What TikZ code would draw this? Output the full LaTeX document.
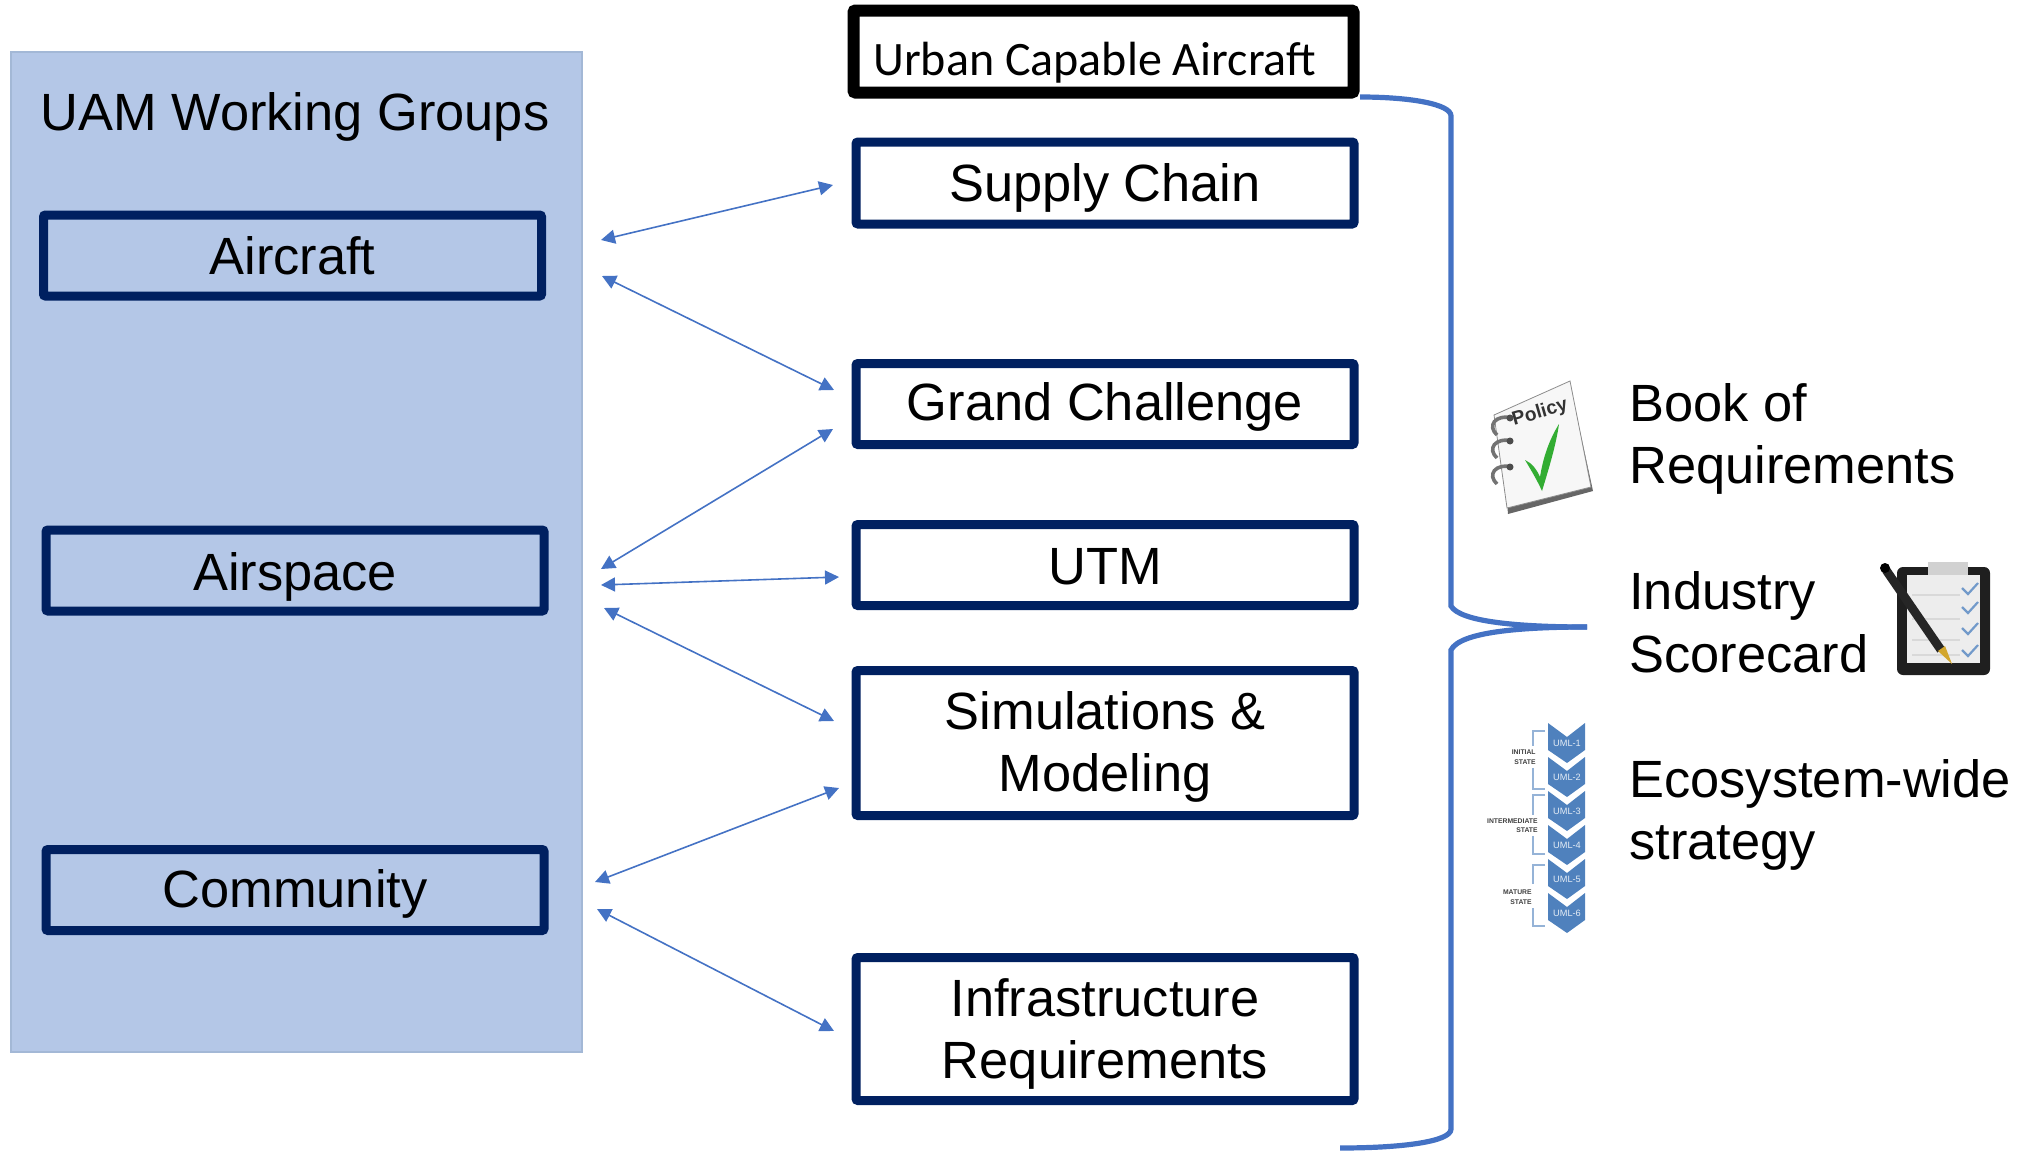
\documentclass[tikz,border=0pt]{standalone}
\usepackage{fontspec}
\setmainfont{Liberation Sans}
\newfontfamily\carlitofont{Carlito}
\usetikzlibrary{arrows.meta}
\definecolor{navy}{HTML}{002060}
\definecolor{panel}{HTML}{B4C7E7}
\definecolor{panelline}{HTML}{A3B8D6}
\definecolor{linkblue}{HTML}{4472C4}
\definecolor{chev}{HTML}{4F81BD}
\definecolor{brk}{HTML}{95B3D7}
\newcommand{\st}[1]{\rule{0pt}{#1pt}}
\tikzset{
  navybox/.style={draw=navy,line width=4.5pt,fill=white,rounded corners=1pt,align=center,font=\fontsize{26.2}{31.3}\selectfont,inner sep=0pt},
  groupbox/.style={navybox,fill=panel},
  blackbox/.style={draw=black,line width=6pt,fill=white,rounded corners=1pt,inner sep=0pt},
  link/.style={draw=linkblue,line width=0.8pt,{Triangle[length=7pt,width=7pt]}-{Triangle[length=7pt,width=7pt]}},
  bracket/.style={draw=linkblue,line width=2.6pt},
  sidetext/.style={anchor=west,align=left,inner sep=0pt,font=\fontsize{26.2}{31.3}\selectfont},
  chevron/.style={fill=chev,draw=none},
  umltext/.style={text=white!85!chev,font=\fontsize{4.6}{5}\selectfont,inner sep=0pt},
  statetext/.style={anchor=east,align=right,inner sep=0pt,font=\fontsize{3.4}{5}\selectfont\bfseries,text=black!75},
  brk line/.style={draw=brk,line width=1pt},
}
\begin{document}
\begin{tikzpicture}[x=0.5pt,y=-0.5pt]
\useasboundingbox (0,0) rectangle (2023,1151);
% panel
\node[draw=panelline,fill=panel,line width=0.6pt,minimum width=285.5pt,minimum height=500pt,inner sep=0pt] (panel) at (296.5,552) {};
\node[inner sep=0pt,font=\fontsize{26.2}{31}\selectfont] (title) at (295,117) {UAM Working Groups};
% left boxes
\node[groupbox,minimum width=249pt,minimum height=40.5pt] (aircraft) at (292.5,255.5) {Aircraft};
\node[groupbox,minimum width=249pt,minimum height=40.5pt] (airspace) at (295,570.5) {\st{25}Airspace};
\node[groupbox,minimum width=249pt,minimum height=40.5pt] (community) at (295,890) {\st{23}Community};
% middle boxes
\node[blackbox,minimum width=250pt,minimum height=41pt] (urban) at (1103.5,51.5) {};
\node[anchor=west,inner sep=0pt,font=\carlitofont\fontsize{24}{28}\selectfont] (urbantext) at (873,63) {Urban Capable Aircraft};
\node[navybox,minimum width=249pt,minimum height=41pt] (supply) at (1105,183) {\st{24}Supply Chain};
\node[navybox,minimum width=249pt,minimum height=40.5pt] (grand) at (1105,404) {\st{21.5}Grand Challenge};
\node[navybox,minimum width=249pt,minimum height=40.5pt] (utm) at (1105,565) {\st{20}UTM};
\node[navybox,minimum width=249pt,minimum height=72.5pt] (sim) at (1105,743) {\st{23}Simulations \&\\Modeling};
\node[navybox,minimum width=249pt,minimum height=71.5pt] (infra) at (1105,1029) {\st{24}Infrastructure\\Requirements};
% arrow ends
\coordinate (a1) at (601,240);  \coordinate (s1) at (833,185);
\coordinate (a2) at (602,276);  \coordinate (g1) at (834,390);
\coordinate (b1) at (601,569);  \coordinate (g2) at (833,429);
\coordinate (b2) at (601,585);  \coordinate (u1) at (839,577);
\coordinate (b3) at (604,608);  \coordinate (m1) at (834,721);
\coordinate (c1) at (595,882);  \coordinate (m2) at (839,788);
\coordinate (c2) at (597,909);  \coordinate (i1) at (834,1031);
\draw[link] (a1) -- (s1);
\draw[link] (a2) -- (g1);
\draw[link] (b1) -- (g2);
\draw[link] (b2) -- (u1);
\draw[link] (b3) -- (m1);
\draw[link] (c1) -- (m2);
\draw[link] (c2) -- (i1);
% big brace
\coordinate (br0) at (1360,97);
\coordinate (br1) at (1451,116);
\coordinate (br2) at (1451,606);
\coordinate (brt) at (1587,627);
\coordinate (br3) at (1451,650);
\coordinate (br4) at (1451,1129);
\coordinate (br5) at (1340,1148);
\draw[bracket] (br0) .. controls (1410,97) and (1451,104) .. (br1) -- (br2) .. controls (1460,622) and (1520,627) .. (brt);
\draw[bracket] (brt) .. controls (1520,627) and (1460,632) .. (br3) -- (br4) .. controls (1451,1142) and (1400,1148) .. (br5);
% side text
\node[sidetext] (book) at (1629,439) {Book of\\Requirements};
\node[sidetext] (score) at (1629,622) {Industry\\Scorecard};
\node[sidetext] (eco) at (1629,815) {Ecosystem-wide\\strategy};
% policy notebook icon
\fill[black!60] (1500,420) -- (1570,385) -- (1593,491) -- (1508,514) -- cycle;
\fill[black!3,draw=black!45,line width=0.4pt] (1494,415) -- (1570,381) -- (1591,487) -- (1507,508) -- cycle;
\node[rotate=16,inner sep=0pt,font=\fontsize{9.6}{12}\selectfont\bfseries,text=black!80] (policy) at (1540,413) {Policy};
\fill[green!60!black!80!white] (1525,460) .. controls (1532,463) and (1537,470) .. (1540,477) .. controls (1543,458) and (1549,440) .. (1559,424) .. controls (1556,445) and (1549,468) .. (1542,491) .. controls (1537,480) and (1531,470) .. (1525,460) -- cycle;
\foreach \yy in {418,441,467}{
  \draw[black!55,line width=1.8pt] (1512,\yy) .. controls (1495,\yy-4) and (1487,\yy+8) .. (1497,\yy+17);
  \fill[black!70] (1510,\yy) circle[radius=3.5];
}
% clipboard icon
\fill[black!88,rounded corners=3pt] (1897,567) rectangle (1990,675);
\fill[black!7] (1907,575) rectangle (1980,663);
\fill[black!18] (1928,562) rectangle (1968,575);
\foreach \yy in {595,619,640,655}{
  \draw[black!15,line width=1pt] (1912,\yy) -- (1960,\yy);
}
\foreach \yy in {588,607,628,650}{
  \draw[chev!80!white,line width=1.1pt] (1962,\yy) -- (1968,\yy+6) -- (1978,\yy-5);
}
\draw[black!85,line width=4.4pt] (1886,570) -- (1941,650);
\fill[brown!70!yellow] (1938,651) -- (1945,646) -- (1952,664) -- cycle;
\fill[black] (1885,568) circle[radius=5];
% UML chevrons
\foreach \i/\lab in {0/UML-1,1/UML-2,2/UML-3,3/UML-4,4/UML-5,5/UML-6}{
  \fill[chevron] (1548,723+34*\i) -- (1567,737+34*\i) -- (1585,723+34*\i) -- (1585,750+34*\i) -- (1567,763+34*\i) -- (1548,750+34*\i) -- cycle;
  \node[umltext] at (1567,743+34*\i) {\lab};
}
\draw[brk line] (1545,731) -- (1533,731) -- (1533,746);
\draw[brk line] (1533,768) -- (1533,789) -- (1545,789);
\draw[brk line] (1545,795) -- (1533,795) -- (1533,815);
\draw[brk line] (1533,836) -- (1533,854) -- (1545,854);
\draw[brk line] (1545,865) -- (1533,865) -- (1533,884);
\draw[brk line] (1533,908) -- (1533,926) -- (1545,926);
\node[statetext] at (1536,752) {INITIAL};
\node[statetext] at (1536,762) {STATE};
\node[statetext] at (1538,821) {INTERMEDIATE};
\node[statetext] at (1538,830) {STATE};
\node[statetext] at (1532,892) {MATURE};
\node[statetext] at (1532,902) {STATE};
\end{tikzpicture}
\end{document}
